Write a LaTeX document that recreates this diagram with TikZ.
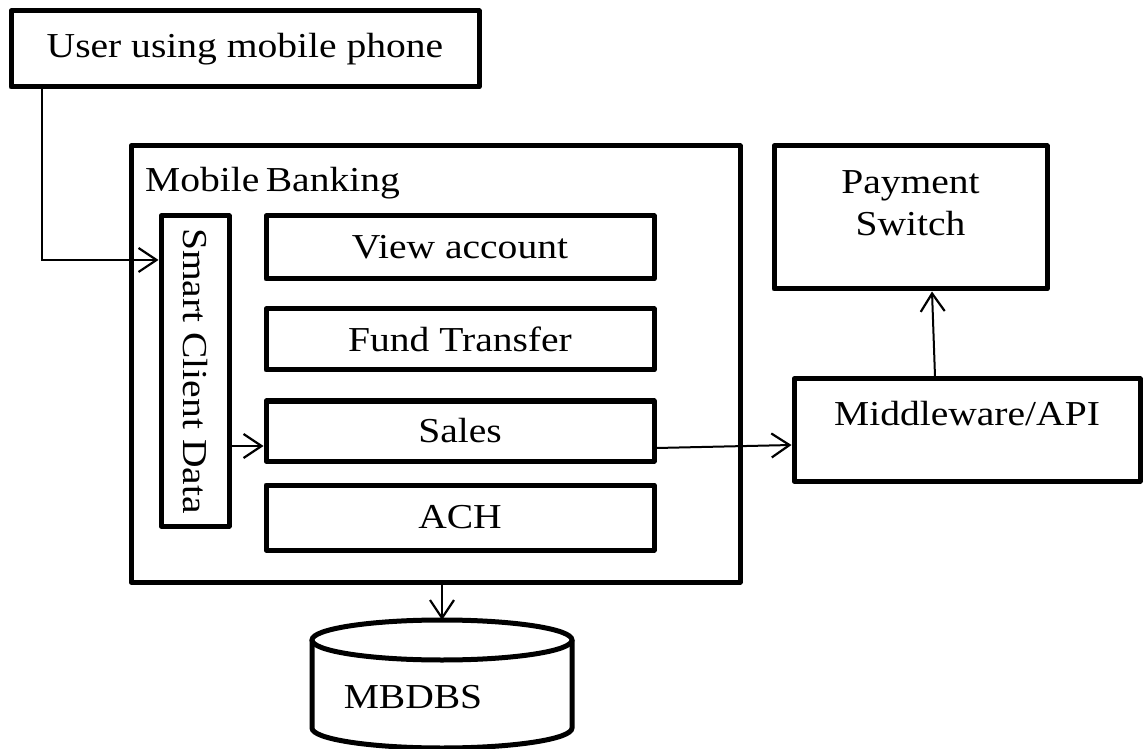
\documentclass[tikz,border=0pt]{standalone}
\usepackage{fontspec}
\setmainfont{Liberation Serif}[FakeStretch=1.13]
\usetikzlibrary{arrows.meta}
\begin{document}
\begin{tikzpicture}[x=1pt,y=1pt,
  lbl/.style={font=\fontsize{35}{42}\selectfont, inner sep=0pt},
  box/.style={draw, line width=5pt, line join=round, inner sep=0pt, lbl},
  cyl/.style={draw, line width=5pt},
  arr/.style={line width=2pt, -{Straight Barb[length=18pt,width=24pt,line width=2.2pt]}}]
\useasboundingbox (0,0) rectangle (1143,748);

% outer frames
\node[box, minimum width=468, minimum height=76] (user) at (245,699) {User using mobile phone};
\node[box, minimum width=609, minimum height=436] (mb) at (435.5,384) {};
\node[lbl, anchor=base west] (mbt) at (145,556) {Mobile\kern-0.1em\ Banking};

% inner modules
\node[box, minimum width=68, minimum height=310] (sc) at (195,377) {};
\node[lbl, rotate=-90] (sct) at (sc.center) {Smart Client Data};
\node[box, minimum width=388, minimum height=63] (view) at (460,500.5) {View account};
\node[box, minimum width=388, minimum height=61] (fund) at (460,408.5) {Fund Transfer};
\node[box, minimum width=388, minimum height=60] (sales) at (460,317) {Sales};
\node[box, minimum width=388, minimum height=65] (ach) at (460,230.5) {ACH};

% external systems
\node[box, minimum width=273, minimum height=143] (ps) at (910.5,530.5) {};
\node[lbl, align=center] (pst) at ([yshift=14]ps.center) {Payment\\Switch};
\node[box, minimum width=346, minimum height=102] (mw) at (967,318) {};
\node[lbl] (mwt) at ([yshift=16]mw.center) {Middleware/API};

% database cylinder
\coordinate (dbtop) at (442,128);
\draw[cyl] (442,108) ellipse [x radius=130, y radius=20];
\draw[cyl] (312,108) -- (312,20) arc[start angle=180, end angle=360, x radius=130, y radius=20] -- (572,108);
\node[lbl] (db) at (413,51) {MBDBS};

% connectors
\draw[arr] ([xshift=33]user.south west) |- ([yshift=111]sc.west);
\draw[arr] ([yshift=-15]sales.west -| sc.east) -- ([yshift=-15]sales.west);
\draw[arr] ([yshift=-17]sales.east) -- ([yshift=-15]mw.west);
\draw[arr] ([xshift=-32]mw.north) -- ([xshift=21.5]ps.south);
\draw[arr] (mb.south -| dbtop) -- (dbtop);
\end{tikzpicture}
\end{document}
